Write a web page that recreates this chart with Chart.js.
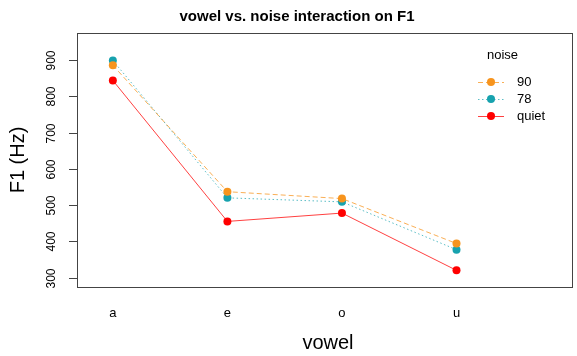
<!DOCTYPE html>
<html>
<head>
<meta charset="utf-8">
<script src="https://cdn.jsdelivr.net/npm/chart.js@4"></script>
<style>
  html, body { margin: 0; padding: 0; background: #fff; }
  #wrap { width: 577px; height: 356px; }
</style>
</head>
<body>
<div id="wrap"><canvas id="chart" width="577" height="356"></canvas></div>
<script>
// data
const vowels = ['a', 'e', 'o', 'u'];
const noiseLevels = ['90', '78', 'quiet'];
const f1_90 = [886, 537, 518, 394];
const f1_78 = [899, 520, 509, 377];
const f1_quiet = [844, 455, 478, 320];
const yTicks = [300, 400, 500, 600, 700, 800, 900];

const FONT = '"Liberation Sans", Arial, sans-serif';

// series styling
const seriesStyle = [
    { point: '#F7941D', line: 'rgba(247, 148, 29, 0.75)', dash: [5, 3] },
    { point: '#17A2AE', line: 'rgba(23, 162, 174, 0.7)', dash: [1.5, 2.5] },
    { point: '#FF0000', line: 'rgba(255, 0, 0, 0.75)', dash: [] }
];

function toPoints(values) {
    return values.map((v, i) => ({ x: i + 1, y: v }));
}

const seriesValues = [f1_90, f1_78, f1_quiet];
const datasets = seriesValues.map((vals, i) => ({
    label: noiseLevels[i],
    data: toPoints(vals),
    borderColor: seriesStyle[i].line,
    borderDash: seriesStyle[i].dash,
    borderWidth: 1,
    pointRadius: 4,
    pointBorderWidth: 0,
    pointBackgroundColor: seriesStyle[i].point,
    pointBorderColor: seriesStyle[i].point,
    tension: 0
}));

// draws the R-style frame, axes text, title and legend
const decorPlugin = {
    id: 'decor',
    afterDraw(chart) {
        const c = chart.ctx;
        const a = chart.chartArea;
        const ys = chart.scales.y;
        const xs = chart.scales.x;
        c.save();

        // box
        c.strokeStyle = '#444';
        c.lineWidth = 1;
        c.setLineDash([]);
        c.strokeRect(a.left + 0.5, a.top + 0.5, a.right - a.left - 1, a.bottom - a.top);

        // y ticks, rotated labels
        c.fillStyle = '#000';
        c.font = '12px ' + FONT;
        c.textAlign = 'center';
        c.textBaseline = 'middle';
        yTicks.forEach(t => {
            const py = Math.round(ys.getPixelForValue(t)) + 0.5;
            c.beginPath();
            c.moveTo(a.left - 8, py);
            c.lineTo(a.left, py);
            c.stroke();
            c.save();
            c.translate(52, py);
            c.rotate(-Math.PI / 2);
            c.fillText(String(t), 0, 0);
            c.restore();
        });

        // x labels
        c.font = '13px ' + FONT;
        vowels.forEach((v, i) => {
            c.fillText(v, xs.getPixelForValue(i + 1), 313);
        });

        // axis titles
        c.font = '20px ' + FONT;
        c.fillText('vowel', 328, 343);
        c.save();
        c.translate(18, 160);
        c.rotate(-Math.PI / 2);
        c.fillText('F1 (Hz)', 0, 0);
        c.restore();

        // title
        c.font = 'bold 15px ' + FONT;
        c.fillText('vowel vs. noise interaction on F1', 297, 17);

        // legend
        c.font = '13px ' + FONT;
        c.textAlign = 'left';
        c.fillText('noise', 487, 55);
        const rows = [82, 99, 116];
        noiseLevels.forEach((lab, i) => {
            const y = rows[i];
            c.strokeStyle = seriesStyle[i].line;
            c.setLineDash(seriesStyle[i].dash);
            c.beginPath();
            c.moveTo(478, y + 0.5);
            c.lineTo(504, y + 0.5);
            c.stroke();
            c.setLineDash([]);
            c.fillStyle = seriesStyle[i].point;
            c.beginPath();
            c.arc(491, y, 4, 0, Math.PI * 2);
            c.fill();
            c.fillStyle = '#000';
            c.fillText(lab, 517, y);
        });

        c.restore();
    }
};

new Chart(document.getElementById('chart'), {
    type: 'line',
    data: { datasets: datasets },
    options: {
        responsive: false,
        animation: false,
        layout: { padding: { left: 77, right: 1, top: 33, bottom: 69 } },
        scales: {
            x: { type: 'linear', min: 0.687, max: 5.017, display: false },
            y: { type: 'linear', min: 274, max: 975, display: false }
        },
        plugins: {
            legend: { display: false },
            tooltip: { enabled: false }
        }
    },
    plugins: [decorPlugin]
});
</script>
</body>
</html>
